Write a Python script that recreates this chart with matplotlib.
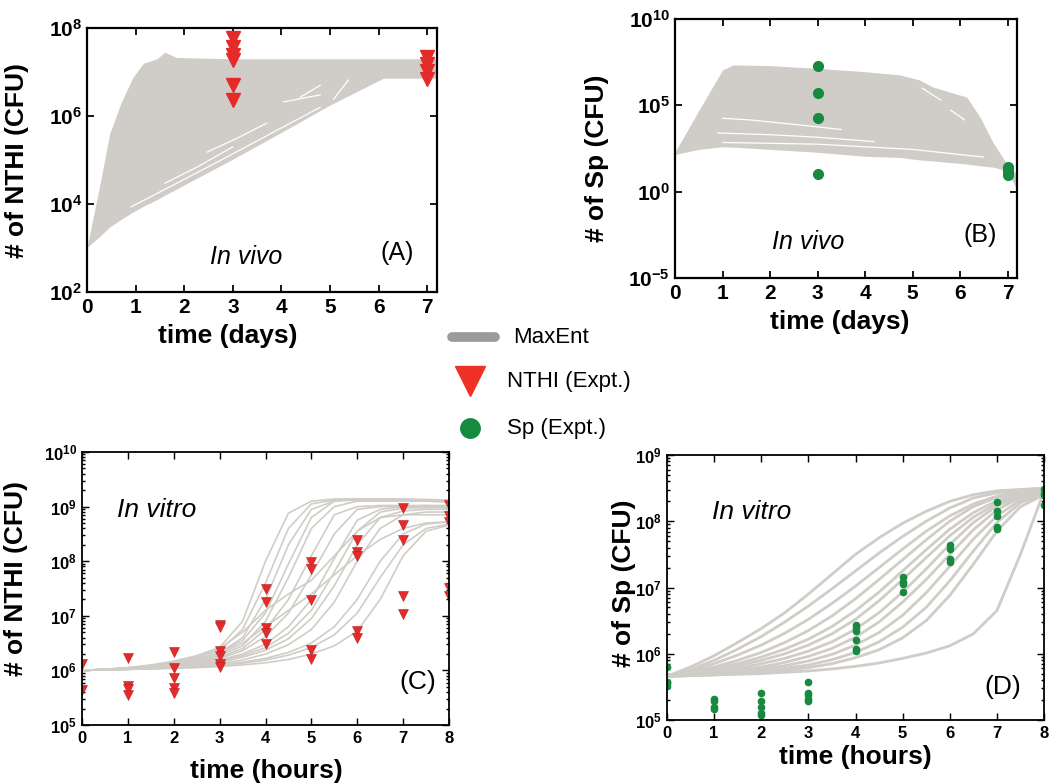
import matplotlib
matplotlib.use("Agg")
import matplotlib.pyplot as plt
import numpy as np
from matplotlib.ticker import FixedLocator, FuncFormatter, LogLocator, NullFormatter

plt.rcParams['font.family'] = ['Liberation Sans', 'DejaVu Sans']
plt.rcParams['mathtext.fontset'] = 'custom'
plt.rcParams['mathtext.rm'] = 'Liberation Sans'
plt.rcParams['mathtext.bf'] = 'Liberation Sans:bold'
plt.rcParams['mathtext.it'] = 'Liberation Sans:italic'

# ---------------- data (log10 CFU) ----------------
# Panel A: MaxEnt envelope (in vivo NTHI)
A_t = [0, 0.06, 0.25, 0.47, 0.7, 0.95, 1.16, 1.44, 1.6, 1.84, 3, 4, 5, 6.1, 7.2]
A_upper = [3.02, 3.34, 4.36, 5.61, 6.3, 6.89, 7.2, 7.3, 7.45, 7.33, 7.3, 7.3, 7.3, 7.3, 7.3]
A_lower = [3.02, 3.07, 3.25, 3.48, 3.65, 3.82, 3.95, 4.1, 4.2, 4.34, 5.02, 5.63, 6.25, 6.86, 6.86]
A_gaps = [
    ([0.9, 2.0, 3.0, 4.0, 4.8], [3.93, 4.56, 5.14, 5.73, 6.2]),
    ([1.6, 2.3, 3.0], [4.47, 4.86, 5.3]),
    ([2.47, 3.1, 3.7], [5.18, 5.5, 5.84]),
    ([4.04, 4.8], [6.32, 6.48]),
    ([4.39, 4.8], [6.43, 6.7]),
    ([5.07, 5.38], [6.38, 6.82]),
]
A_expt_t3 = [7.77, 7.57, 7.39, 7.27, 6.70, 6.36]
A_expt_t7 = [7.33, 7.18, 7.03, 6.84]

# Panel B: MaxEnt envelope (in vivo Sp)
B_t = [0, 0.5, 1.0, 1.22, 2.0, 2.9, 4.0, 4.74, 5.15, 5.43, 6.14, 6.42, 6.7, 7.0, 7.2]
B_upper = [2.3, 4.7, 7.05, 7.34, 7.3, 7.16, 6.95, 6.76, 6.47, 6.06, 5.48, 4.33, 2.82, 1.55, 1.0]
B_lower = [2.15, 2.45, 2.6, 2.58, 2.45, 2.3, 2.05, 1.98, 1.84, 1.78, 1.6, 1.5, 1.42, 1.2, 0.1]
B_gaps = [
    ([1.0, 1.6, 2.5, 3.5], [4.25, 4.15, 3.9, 3.6]),
    ([0.9, 2.0, 3.0, 4.2], [3.4, 3.3, 3.15, 2.9]),
    ([1.0, 3.0, 5.0, 6.5], [2.85, 2.75, 2.45, 2.0]),
    ([5.2, 5.6], [6.0, 5.3]),
    ([5.8, 6.1], [4.73, 4.15]),
    ([4.45, 5.15], [6.9, 6.73]),
]
B_expt_t3 = [7.28, 5.72, 4.27, 1.03]
B_expt_t7 = [1.45, 1.28, 1.12, 0.97]

# Panel C: in vitro NTHI trajectories at t = 0, 0.5, ..., 8 h
C_t = [0, 0.5, 1, 1.5, 2, 2.5, 3, 3.5, 4, 4.5, 5, 5.5, 6, 6.5, 7, 7.5, 8]
C_curves = [
    [6.0, 6.02, 6.05, 6.1, 6.17, 6.27, 6.42, 6.9, 8.0, 8.88, 9.1, 9.14, 9.14, 9.14, 9.13, 9.12, 9.11],
    [6.0, 6.02, 6.04, 6.08, 6.14, 6.23, 6.36, 6.75, 7.6, 8.6, 9.05, 9.12, 9.13, 9.13, 9.12, 9.11, 9.1],
    [6.0, 6.02, 6.04, 6.08, 6.13, 6.2, 6.32, 6.55, 7.05, 7.95, 8.8, 9.1, 9.14, 9.14, 9.14, 9.13, 9.12],
    [6.0, 6.02, 6.04, 6.07, 6.12, 6.2, 6.32, 6.6, 7.3, 8.3, 8.95, 9.1, 9.12, 9.12, 9.11, 9.1, 9.1],
    [6.0, 6.02, 6.04, 6.07, 6.11, 6.17, 6.27, 6.45, 6.9, 7.7, 8.6, 9.0, 9.1, 9.1, 9.1, 9.1, 9.08],
    [6.0, 6.02, 6.03, 6.06, 6.1, 6.15, 6.24, 6.4, 6.75, 7.3, 8.1, 8.85, 9.0, 9.02, 9.02, 9.02, 9.0],
    [6.0, 6.01, 6.03, 6.05, 6.09, 6.14, 6.22, 6.36, 6.62, 7.05, 7.75, 8.5, 8.95, 9.0, 9.0, 9.0, 9.0],
    [6.0, 6.01, 6.03, 6.05, 6.08, 6.12, 6.19, 6.3, 6.48, 6.8, 7.3, 8.05, 8.75, 8.95, 9.0, 9.02, 9.02],
    [6.0, 6.01, 6.02, 6.04, 6.07, 6.11, 6.17, 6.27, 6.42, 6.68, 7.1, 7.8, 8.55, 8.9, 8.97, 8.98, 8.98],
    [6.0, 6.01, 6.02, 6.04, 6.06, 6.1, 6.15, 6.24, 6.37, 6.58, 6.95, 7.55, 8.3, 8.8, 8.92, 8.95, 8.95],
    [6.0, 6.01, 6.02, 6.03, 6.05, 6.08, 6.12, 6.19, 6.3, 6.47, 6.75, 7.25, 8.0, 8.6, 8.85, 8.9, 8.9],
    [6.0, 6.01, 6.02, 6.03, 6.05, 6.07, 6.1, 6.15, 6.22, 6.33, 6.5, 6.8, 7.3, 8.0, 8.5, 8.68, 8.72],
    [6.0, 6.01, 6.02, 6.03, 6.04, 6.06, 6.09, 6.13, 6.19, 6.28, 6.42, 6.65, 7.05, 7.7, 8.3, 8.6, 8.68],
    [6.0, 6.01, 6.02, 6.03, 6.04, 6.05, 6.07, 6.1, 6.14, 6.2, 6.3, 6.45, 6.72, 7.3, 8.1, 8.55, 8.66],
    [6.0, 6.02, 6.04, 6.08, 6.13, 6.2, 6.3, 6.5, 6.8, 7.1, 7.4, 7.75, 8.1, 8.4, 8.6, 8.7, 8.72],
    [6.0, 6.02, 6.05, 6.09, 6.15, 6.25, 6.4, 6.7, 7.1, 7.4, 7.65, 8.1, 8.55, 8.8, 8.85, 8.85, 8.85],
]
C_expt_t = [0, 0, 1, 1, 1, 1, 2, 2, 2, 2, 2, 3, 3, 3, 3, 3, 3,
            4, 4, 4, 4, 4, 5, 5, 5, 5, 5, 6, 6, 6, 6, 6, 7, 7, 7, 7, 7, 8, 8, 8, 8, 8]
C_expt_v = [6.12, 5.64, 6.23, 5.72, 5.66, 5.55, 6.34, 6.05, 5.86, 5.68, 5.59,
            6.83, 6.80, 6.36, 6.27, 6.12, 6.07, 7.49, 7.25, 6.78, 6.68, 6.48,
            7.99, 7.86, 7.29, 6.37, 6.20, 8.39, 8.17, 8.10, 6.72, 6.59,
            8.97, 8.66, 8.38, 7.36, 7.03, 9.03, 8.83, 8.72, 7.51, 7.36]

# Panel D: in vitro Sp trajectories at t = 0, 0.5, ..., 8 h
D_t = [0, 0.5, 1, 1.5, 2, 2.5, 3, 3.5, 4, 4.5, 5, 5.5, 6, 6.5, 7, 7.5, 8]
D_curves = [
    [5.66, 5.8, 5.97, 6.17, 6.38, 6.62, 6.9, 7.2, 7.5, 7.75, 7.97, 8.15, 8.3, 8.4, 8.46, 8.48, 8.5],
    [5.66, 5.76, 5.9, 6.07, 6.26, 6.48, 6.72, 6.98, 7.25, 7.52, 7.77, 8.0, 8.2, 8.35, 8.43, 8.47, 8.5],
    [5.66, 5.74, 5.85, 5.98, 6.13, 6.31, 6.52, 6.76, 7.02, 7.3, 7.58, 7.85, 8.08, 8.26, 8.38, 8.45, 8.48],
    [5.66, 5.72, 5.8, 5.9, 6.02, 6.17, 6.35, 6.57, 6.83, 7.12, 7.42, 7.72, 8.0, 8.22, 8.36, 8.44, 8.48],
    [5.66, 5.71, 5.77, 5.85, 5.95, 6.07, 6.22, 6.41, 6.65, 6.93, 7.25, 7.57, 7.88, 8.13, 8.31, 8.42, 8.47],
    [5.66, 5.7, 5.75, 5.82, 5.9, 6.0, 6.13, 6.3, 6.52, 6.8, 7.12, 7.45, 7.78, 8.06, 8.27, 8.4, 8.46],
    [5.66, 5.69, 5.73, 5.78, 5.85, 5.93, 6.04, 6.18, 6.37, 6.62, 6.93, 7.28, 7.65, 7.98, 8.23, 8.38, 8.45],
    [5.66, 5.68, 5.71, 5.75, 5.8, 5.87, 5.96, 6.08, 6.25, 6.48, 6.78, 7.12, 7.5, 7.87, 8.17, 8.36, 8.44],
    [5.66, 5.68, 5.7, 5.73, 5.77, 5.82, 5.89, 5.99, 6.13, 6.32, 6.58, 6.92, 7.32, 7.73, 8.08, 8.32, 8.43],
    [5.66, 5.67, 5.69, 5.71, 5.74, 5.78, 5.83, 5.91, 6.02, 6.18, 6.4, 6.7, 7.1, 7.55, 7.98, 8.28, 8.42],
    [5.66, 5.67, 5.68, 5.7, 5.72, 5.75, 5.79, 5.85, 5.94, 6.06, 6.24, 6.5, 6.88, 7.35, 7.85, 8.22, 8.4],
    [5.66, 5.67, 5.68, 5.69, 5.7, 5.72, 5.74, 5.77, 5.81, 5.86, 5.93, 6.01, 6.12, 6.3, 6.65, 7.5, 8.45],
]
D_expt_t = [0, 0, 0, 0, 1, 1, 1, 1, 2, 2, 2, 2, 2, 3, 3, 3, 3, 3,
            4, 4, 4, 4, 4, 4, 5, 5, 5, 5, 6, 6, 6, 6, 7, 7, 7, 7, 7, 8, 8, 8, 8]
D_expt_v = [5.80, 5.58, 5.56, 5.52, 5.32, 5.29, 5.20, 5.17, 5.41, 5.28, 5.20, 5.10, 5.07,
            5.58, 5.41, 5.38, 5.32, 5.29, 6.43, 6.39, 6.35, 6.21, 6.07, 6.04,
            7.16, 7.09, 7.06, 6.93, 7.64, 7.58, 7.43, 7.39,
            8.29, 8.16, 8.08, 7.92, 7.88, 8.49, 8.42, 8.39, 8.24]

legend_labels = ['MaxEnt', 'NTHI (Expt.)', 'Sp (Expt.)']

GRAY = '#D0CDC8'
RED = '#E52A2A'
GREEN = '#168A3E'

W, H = 1050, 784
fig = plt.figure(figsize=(W / 100, H / 100), dpi=100)


def add_ax(l, t, r, b):
    return fig.add_axes([l / W, 1 - b / H, (r - l) / W, (b - t) / H])


def ftext(x, y, s, **kw):
    fig.text(x / W, 1 - y / H, s, **kw)


def pw(v):
    return 10.0 ** np.asarray(v, dtype=float)


def style(ax, ylim, yticks, xticks, xmax, fs, lw, minor=False):
    ax.set_yscale('log')
    ax.set_xlim(0, xmax)
    ax.set_ylim(ylim)
    ax.yaxis.set_major_locator(FixedLocator(yticks))
    ax.yaxis.set_major_formatter(FuncFormatter(
        lambda v, p: r'$\mathbf{10^{%d}}$' % int(round(np.log10(v)))))
    if minor:
        ax.yaxis.set_minor_locator(LogLocator(base=10, subs=np.arange(2, 10)))
    else:
        ax.yaxis.set_minor_locator(FixedLocator([]))
    ax.yaxis.set_minor_formatter(NullFormatter())
    ax.set_xticks(xticks)
    ax.set_xticklabels([str(v) for v in xticks], fontweight='bold')
    ax.tick_params(which='both', direction='in', top=True, right=True,
                   labelsize=fs, width=lw * 0.8)
    ax.tick_params(which='major', length=5)
    ax.tick_params(which='minor', length=2.5)
    ax.tick_params(axis='x', pad=4)
    for s in ax.spines.values():
        s.set_linewidth(lw)


# ---------- Panel A ----------
axA = add_ax(87, 28, 437, 292)
axA.fill_between(A_t, pw(A_lower), pw(A_upper), color=GRAY, lw=0)
for gt, gv in A_gaps:
    axA.plot(gt, pw(gv), color='white', lw=0.9, solid_capstyle='round')
axA.plot([3] * len(A_expt_t3), pw(A_expt_t3), 'v', color=RED, ms=10, mec=RED, ls='none')
axA.plot([7] * len(A_expt_t7), pw(A_expt_t7), 'v', color=RED, ms=10, mec=RED, ls='none')
style(axA, (1e2, 1e8), [1e2, 1e4, 1e6, 1e8], list(range(8)), 7.2, 15, 1.6)
axA.text(0.455, 0.133, 'In vivo', transform=axA.transAxes, fontsize=18,
         style='italic', ha='center', va='center')
axA.text(0.886, 0.148, '(A)', transform=axA.transAxes, fontsize=18, ha='center', va='center')
ftext(17, 160, '# of NTHI (CFU)', rotation=90, fontsize=19, fontweight='bold',
      ha='center', va='center')
ftext(228, 336, 'time (days)', fontsize=19, fontweight='bold', ha='center', va='center')

# ---------- Panel B ----------
axB = add_ax(675, 19, 1017, 278)
axB.fill_between(B_t, pw(B_lower), pw(B_upper), color=GRAY, lw=0)
for gt, gv in B_gaps:
    axB.plot(gt, pw(gv), color='white', lw=0.9, solid_capstyle='round')
axB.plot([3] * len(B_expt_t3), pw(B_expt_t3), 'o', color=GREEN, ms=7, mec=GREEN, ls='none')
axB.plot([7] * len(B_expt_t7), pw(B_expt_t7), 'o', color=GREEN, ms=7, mec=GREEN, ls='none')
style(axB, (1e-5, 1e10), [1e-5, 1e0, 1e5, 1e10], list(range(8)), 7.2, 15, 1.6)
axB.text(0.389, 0.139, 'In vivo', transform=axB.transAxes, fontsize=18,
         style='italic', ha='center', va='center')
axB.text(0.892, 0.166, '(B)', transform=axB.transAxes, fontsize=18, ha='center', va='center')
ftext(597, 158, '# of Sp (CFU)', rotation=90, fontsize=19, fontweight='bold',
      ha='center', va='center')
ftext(840, 322, 'time (days)', fontsize=19, fontweight='bold', ha='center', va='center')

# ---------- Panel C ----------
axC = add_ax(82, 452, 449, 725)
for cv in C_curves:
    axC.plot(C_t, pw(cv), color=GRAY, lw=1.2)
axC.plot(C_expt_t, pw(C_expt_v), 'v', color=RED, ms=6.5, mec='#B52020', mew=0.4, ls='none')
style(axC, (1e5, 1e10), [1e5, 1e6, 1e7, 1e8, 1e9, 1e10], list(range(9)), 8, 12, 1.3, minor=True)
axC.text(0.204, 0.787, 'In vitro', transform=axC.transAxes, fontsize=19,
         style='italic', ha='center', va='center')
axC.text(0.916, 0.157, '(C)', transform=axC.transAxes, fontsize=19, ha='center', va='center')
ftext(16, 579, '# of NTHI (CFU)', rotation=90, fontsize=19, fontweight='bold',
      ha='center', va='center')
ftext(266, 771, 'time (hours)', fontsize=19, fontweight='bold', ha='center', va='center')

# ---------- Panel D ----------
axD = add_ax(667, 455, 1044, 720)
for dv in D_curves:
    axD.plot(D_t, pw(dv), color=GRAY, lw=2.0)
axD.plot(D_expt_t, pw(D_expt_v), 'o', color=GREEN, ms=4.5, mec=GREEN, ls='none')
style(axD, (1e5, 1e9), [1e5, 1e6, 1e7, 1e8, 1e9], list(range(9)), 8, 12, 1.3, minor=True)
axD.text(0.225, 0.785, 'In vitro', transform=axD.transAxes, fontsize=19,
         style='italic', ha='center', va='center')
axD.text(0.891, 0.125, '(D)', transform=axD.transAxes, fontsize=19, ha='center', va='center')
ftext(624, 583, '# of Sp (CFU)', rotation=90, fontsize=19, fontweight='bold',
      ha='center', va='center')
ftext(855, 757, 'time (hours)', fontsize=19, fontweight='bold', ha='center', va='center')

# ---------- Legend (figure level) ----------
axL = fig.add_axes([0, 0, 1, 1], facecolor='none')
axL.set_xlim(0, W)
axL.set_ylim(H, 0)
axL.axis('off')
axL.plot([452, 495], [337, 337], color='#9B9B9B', lw=7, solid_capstyle='round')
axL.plot([470], [381], 'v', color='#EE3124', ms=22, mec='#EE3124')
axL.plot([470], [428], 'o', color=GREEN, ms=14, mec=GREEN)
axL.text(513, 337, legend_labels[0], fontsize=16, va='center', ha='left')
axL.text(507, 381, legend_labels[1], fontsize=16, va='center', ha='left')
axL.text(507, 428, legend_labels[2], fontsize=16, va='center', ha='left')

fig.savefig('out.png', dpi=100)
